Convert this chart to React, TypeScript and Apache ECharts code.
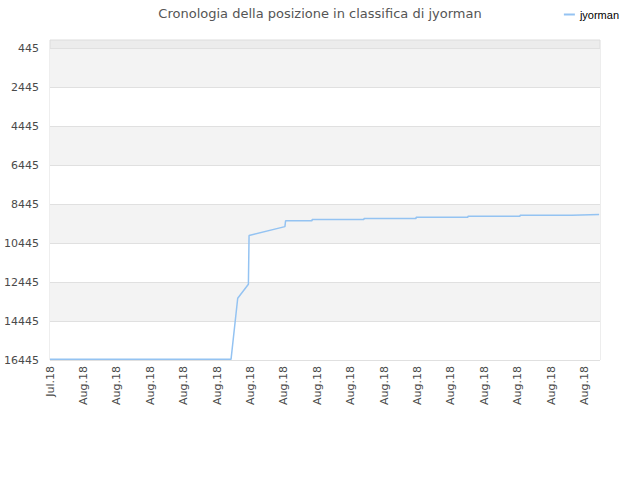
import { useEffect, useRef } from 'react';
import * as echarts from 'echarts';

// hours since the first snapshot, and the rank held at that moment
const hours = [0, 81.3, 84.3, 89.1, 89.4, 105.5, 105.8, 117.7, 117.7, 141.0, 141.0, 164.4, 164.4, 187.7, 187.7, 211.1, 211.1, 234.4, 234.4, 246.6];
const ranks = [16410, 16410, 13270, 12550, 10050, 9590, 9290, 9290, 9230, 9230, 9175, 9175, 9115, 9115, 9055, 9055, 9000, 9000, 8970, 8970];

const rankTicks = [445, 2445, 4445, 6445, 8445, 10445, 12445, 14445, 16445];
const monthNames = ['Jan', 'Feb', 'Mar', 'Apr', 'May', 'Jun', 'Jul', 'Aug', 'Sep', 'Oct', 'Nov', 'Dec'];
const startTime = Date.UTC(2018, 6, 31, 12);

const App = () => {
    const chartRef = useRef<HTMLDivElement>(null);

    useEffect(() => {
        if (!chartRef.current) return;
        const chart = echarts.init(chartRef.current, null, { renderer: 'svg' });

        chart.setOption({
            animation: false,
            backgroundColor: '#fff',
            title: {
                text: 'Cronologia della posizione in classifica di jyorman',
                left: 'center',
                top: 2,
                textStyle: { fontFamily: 'DejaVu Sans', fontSize: 13, fontWeight: 'normal', color: '#555' }
            },
            legend: {
                right: 16,
                top: 4,
                icon: 'rect',
                itemWidth: 11,
                itemHeight: 2,
                itemGap: 6,
                data: ['jyorman'],
                textStyle: { fontFamily: 'Liberation Sans', fontSize: 11, color: '#000' }
            },
            grid: {
                left: 50,
                right: 40,
                top: 40,
                bottom: 120,
                show: true,
                backgroundColor: '#ececec',
                borderColor: '#dcdcdc',
                borderWidth: 1
            },
            xAxis: {
                type: 'value',
                min: 0,
                max: 247,
                interval: 15,
                axisLine: { show: false },
                axisTick: { show: false },
                splitLine: { show: false },
                axisLabel: {
                    rotate: 90,
                    margin: 6,
                    showMaxLabel: false,
                    fontFamily: 'DejaVu Sans',
                    fontSize: 11,
                    color: '#4a4a4a',
                    formatter: (v: number) => {
                        const d = new Date(startTime + v * 3600 * 1000);
                        return monthNames[d.getUTCMonth()] + '.' + String(d.getUTCFullYear()).slice(2);
                    }
                }
            },
            yAxis: {
                type: 'value',
                inverse: true,
                min: 0,
                max: 16445,
                axisLine: { show: false },
                axisTick: { show: false, customValues: rankTicks },
                axisLabel: {
                    customValues: rankTicks,
                    margin: 11,
                    fontFamily: 'DejaVu Sans',
                    fontSize: 11,
                    color: '#4a4a4a',
                    formatter: (v: number) => String(v)
                },
                splitLine: { show: true, lineStyle: { color: '#e0e0e0', width: 1 } },
                splitArea: { show: true, areaStyle: { color: ['#f3f3f3', '#ffffff'] } }
            },
            series: [
                {
                    name: 'jyorman',
                    type: 'line',
                    symbol: 'none',
                    lineStyle: { color: '#94c3f2', width: 1.5 },
                    itemStyle: { color: '#94c3f2' },
                    data: hours.map((h, i) => [h, ranks[i]])
                }
            ]
        });

        return () => chart.dispose();
    }, []);

    return <div ref={chartRef} style={{ position: 'fixed', left: 0, top: 0, width: 640, height: 480 }} />;
};

export default App;
